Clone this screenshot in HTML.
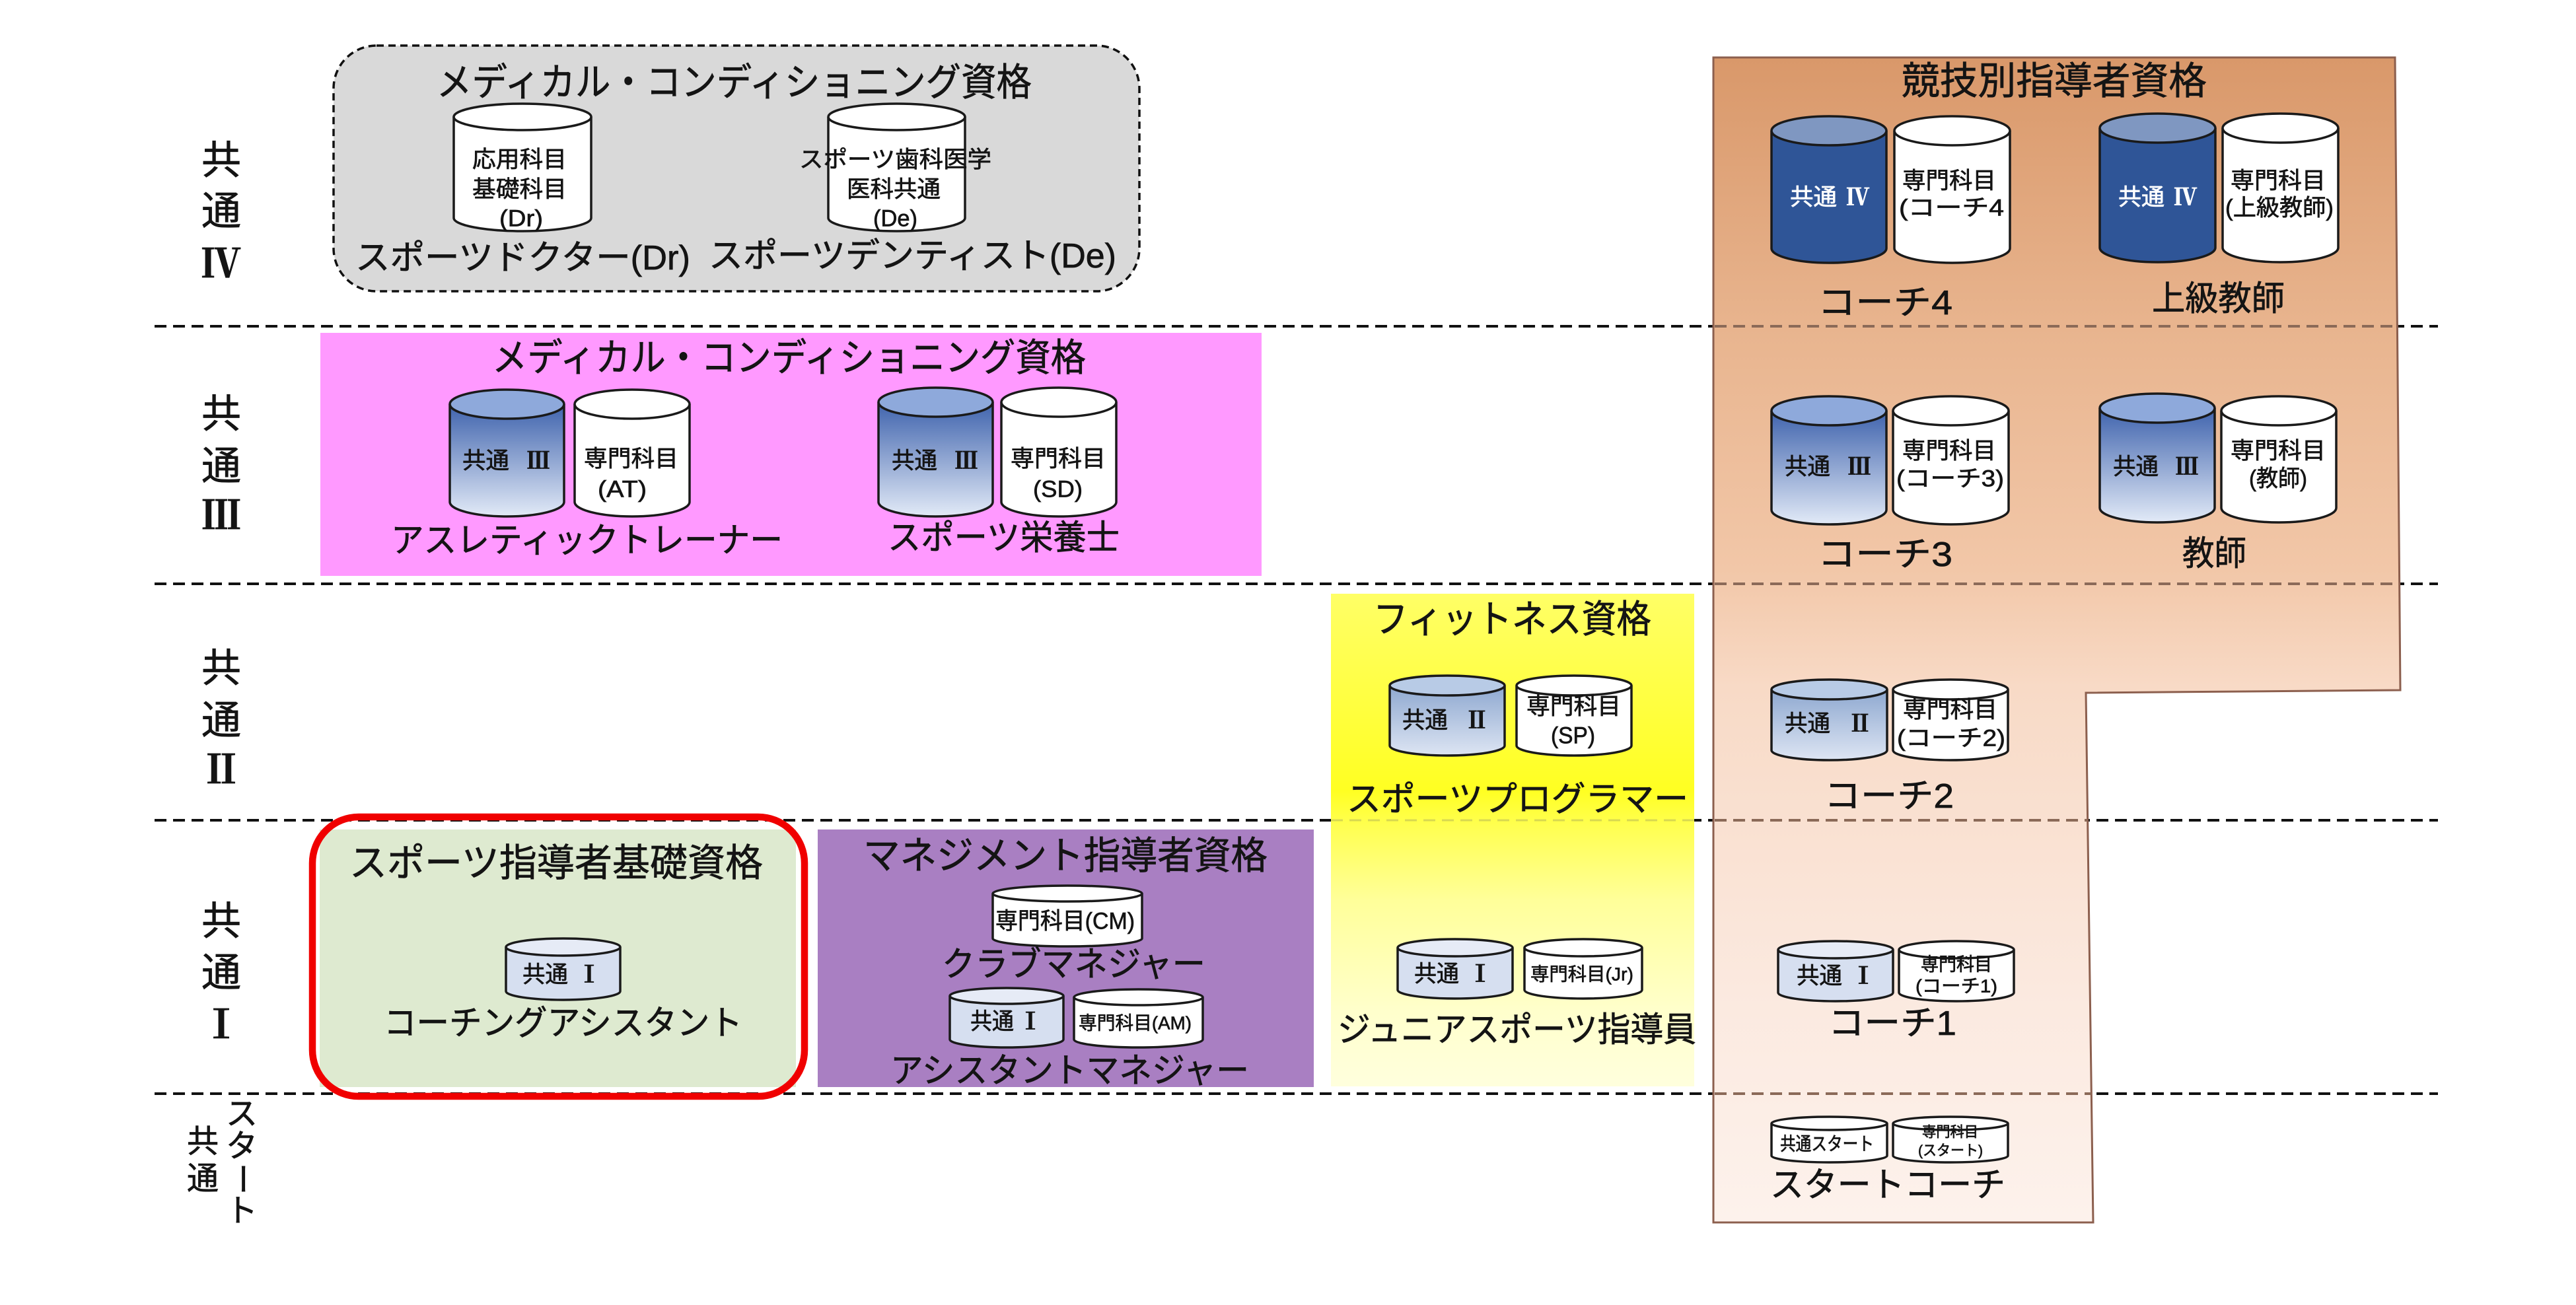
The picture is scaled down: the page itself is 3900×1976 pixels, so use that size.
<!DOCTYPE html>
<html lang="ja"><head><meta charset="utf-8"><title>資格体系</title>
<style>
html,body{margin:0;padding:0;background:#fff}
svg{display:block}
text{font-family:"Liberation Sans","Noto Sans CJK JP",sans-serif;fill:#141414;stroke:#141414;stroke-width:.7;dominant-baseline:central;}
.c{stroke:#1a1a1a;stroke-width:3.5}
.w{fill:#fff}.t4{fill:#2f5597}.e4{fill:#7f97c1}.t3{fill:url(#g3)}.e3{fill:#8ea9db}.t2{fill:url(#g2)}.e2{fill:#b8cbe6}.t1{fill:#d6dff0}.e1{fill:#e6ebf6}
.d{fill:none;stroke:#111;stroke-width:4;stroke-dasharray:18 10}
.r{font-family:"Liberation Serif","Noto Serif CJK JP",serif;font-weight:700;text-anchor:middle}
.wt{fill:#fff;stroke:#fff}
</style></head><body>
<svg xmlns="http://www.w3.org/2000/svg" width="3900" height="1976" viewBox="0 0 3900 1976">
<defs>
<linearGradient id="g3" x1="0" y1="0" x2="0" y2="1"><stop offset="0" stop-color="#3f63ad"/><stop offset="1" stop-color="#e2eaf7"/></linearGradient>
<linearGradient id="g2" x1="0" y1="0" x2="0" y2="1"><stop offset="0" stop-color="#8ea8d0"/><stop offset="1" stop-color="#dde5f3"/></linearGradient>
<linearGradient id="gb" x1="0" y1="0" x2="0" y2="1"><stop offset="0" stop-color="#d9986a"/><stop offset="0.23" stop-color="#e8b48e"/><stop offset="0.44" stop-color="#f2c7a8"/><stop offset="0.54" stop-color="#f8dac6"/><stop offset="0.8" stop-color="#fbe9df"/><stop offset="1" stop-color="#fdf2ec"/></linearGradient>
<linearGradient id="gy" x1="0" y1="0" x2="0" y2="1"><stop offset="0" stop-color="#ffff66"/><stop offset="0.4" stop-color="#ffff22"/><stop offset="0.47" stop-color="#ffff50"/><stop offset="0.62" stop-color="#ffff99"/><stop offset="0.85" stop-color="#ffffcc"/><stop offset="1" stop-color="#ffffdd"/></linearGradient>
</defs>
<rect width="3900" height="1976" fill="#fff"/>
<path class="d" d="M234 494H3691M234 884H3691M234 1242H3691M234 1656H3691"/>

<rect x="505" y="69" width="1220" height="372" rx="65" fill="#d9d9d9" stroke="#111" stroke-width="3.5" stroke-dasharray="11 7"/>
<rect x="485" y="504" width="1425" height="368" fill="#ff99ff"/>
<rect x="2015" y="899" width="550" height="746" fill="url(#gy)"/>
<path d="M2015 1242H2565" fill="none" stroke="#d8d850" stroke-width="3" stroke-dasharray="18 10"/>
<path d="M2594 87H3626L3634 1045L3158 1049L3169 1851H2594Z" fill="url(#gb)" stroke="#8c5f4e" stroke-width="3"/>
<path d="M2596 494H3628M2596 884H3631M2596 1242H3160M2596 1656H3166" fill="none" stroke="#8b6a58" stroke-width="4" stroke-dasharray="18 10"/>
<rect x="484" y="1256" width="721" height="390" fill="#deead0"/>
<rect x="1238" y="1256" width="751" height="390" fill="#a97fc2"/>
<rect x="473" y="1237" width="745" height="423" rx="70" fill="none" stroke="#f00000" stroke-width="10.5"/>

<!-- cylinders -->
<g class="c">
<path class="c w" d="M687 177V330A104 20 0 0 0 895 330V177"/><ellipse class="w" cx="791" cy="177" rx="104" ry="20"/>
<path class="c w" d="M1254 177V330A103.5 20 0 0 0 1461 330V177"/><ellipse class="w" cx="1357.5" cy="177" rx="103.5" ry="20"/>
<path class="c t3" d="M681 612V760A86.5 22 0 0 0 854 760V612"/><ellipse class="e3" cx="767.5" cy="612" rx="86.5" ry="22"/>
<path class="c w" d="M870 612V760A87 22 0 0 0 1044 760V612"/><ellipse class="w" cx="957" cy="612" rx="87" ry="22"/>
<path class="c t3" d="M1330 609V760A86.5 22 0 0 0 1503 760V609"/><ellipse class="e3" cx="1416.5" cy="609" rx="86.5" ry="22"/>
<path class="c w" d="M1516 609V760A87 22 0 0 0 1690 760V609"/><ellipse class="w" cx="1603" cy="609" rx="87" ry="22"/>

<path class="c t4" d="M2682 198V376A87 22 0 0 0 2856 376V198"/><ellipse class="e4" cx="2769" cy="198" rx="87" ry="22"/>
<path class="c w" d="M2868 198V376A87.5 22 0 0 0 3043 376V198"/><ellipse class="w" cx="2955.5" cy="198" rx="87.5" ry="22"/>
<path class="c t4" d="M3179 194V375A87.5 22 0 0 0 3354 375V194"/><ellipse class="e4" cx="3266.5" cy="194" rx="87.5" ry="22"/>
<path class="c w" d="M3365 194V375A87.5 22 0 0 0 3540 375V194"/><ellipse class="w" cx="3452.5" cy="194" rx="87.5" ry="22"/>
<path class="c t3" d="M2682 622V772A87 22 0 0 0 2856 772V622"/><ellipse class="e3" cx="2769" cy="622" rx="87" ry="22"/>
<path class="c w" d="M2866 622V772A87.5 22 0 0 0 3041 772V622"/><ellipse class="w" cx="2953.5" cy="622" rx="87.5" ry="22"/>
<path class="c t3" d="M3179 618V769A87 22 0 0 0 3353 769V618"/><ellipse class="e3" cx="3266" cy="618" rx="87" ry="22"/>
<path class="c w" d="M3363 622V769A87 22 0 0 0 3537 769V622"/><ellipse class="w" cx="3450" cy="622" rx="87" ry="22"/>

<path class="c t2" d="M2104 1038V1129A87 15 0 0 0 2278 1129V1038"/><ellipse class="e2" cx="2191" cy="1038" rx="87" ry="15"/>
<path class="c w" d="M2296 1038V1129A87 15 0 0 0 2470 1129V1038"/><ellipse class="w" cx="2383" cy="1038" rx="87" ry="15"/>
<path class="c t2" d="M2682 1044V1136A87.5 15 0 0 0 2857 1136V1044"/><ellipse class="e2" cx="2769.5" cy="1044" rx="87.5" ry="15"/>
<path class="c w" d="M2866 1044V1136A87 15 0 0 0 3040 1136V1044"/><ellipse class="w" cx="2953" cy="1044" rx="87" ry="15"/>

<path class="c t1" d="M2116 1435V1499A87 13 0 0 0 2290 1499V1435"/><ellipse class="e1" cx="2203" cy="1435" rx="87" ry="13"/>
<path class="c w" d="M2308 1435V1499A89 13 0 0 0 2486 1499V1435"/><ellipse class="w" cx="2397" cy="1435" rx="89" ry="13"/>
<path class="c t1" d="M2692 1438V1503A87 13 0 0 0 2866 1503V1438"/><ellipse class="e1" cx="2779" cy="1438" rx="87" ry="13"/>
<path class="c w" d="M2875 1438V1503A87 13 0 0 0 3049 1503V1438"/><ellipse class="w" cx="2962" cy="1438" rx="87" ry="13"/>
<path class="c w" d="M2682 1701V1750A87.5 10 0 0 0 2857 1750V1701"/><ellipse class="w" cx="2769.5" cy="1701" rx="87.5" ry="10"/>
<path class="c w" d="M2866 1701V1750A87 10 0 0 0 3040 1750V1701"/><ellipse class="w" cx="2953" cy="1701" rx="87" ry="10"/>

<path class="c t1" d="M766 1434V1501A86.5 13 0 0 0 939 1501V1434"/><ellipse class="e1" cx="852.5" cy="1434" rx="86.5" ry="13"/>
<path class="c w" d="M1503 1353V1421A113 12 0 0 0 1729 1421V1353"/><ellipse class="w" cx="1616" cy="1353" rx="113" ry="12"/>
<path class="c t1" d="M1438 1508V1574A86 12 0 0 0 1610 1574V1508"/><ellipse class="e1" cx="1524" cy="1508" rx="86" ry="12"/>
<path class="c w" d="M1626 1510V1574A97.5 12 0 0 0 1821 1574V1510"/><ellipse class="w" cx="1723.5" cy="1510" rx="97.5" ry="12"/>
</g>

<!-- left labels -->
<g font-size="60" text-anchor="middle" style="stroke-width:1.4">
<text x="335" y="243">共</text><text x="335" y="320">通</text><text class="r" x="335" y="400">Ⅳ</text>
<text x="335" y="627">共</text><text x="335" y="706">通</text><text class="r" x="335" y="781">Ⅲ</text>
<text x="335" y="1012">共</text><text x="335" y="1091">通</text><text class="r" x="335" y="1166">Ⅱ</text>
<text x="335" y="1395">共</text><text x="335" y="1473">通</text><text class="r" x="335" y="1552">Ⅰ</text>
</g>
<g font-size="48" text-anchor="middle" style="stroke-width:1">
<text x="307" y="1729">共</text><text x="307" y="1785">通</text>
<text x="366" y="1687">ス</text><text x="366" y="1736">タ</text>
<text x="366" y="1785" transform="rotate(90 366 1785)">ー</text>
<text x="366" y="1834">ト</text>
</g>

<!-- titles -->
<g font-size="58" style="stroke-width:1.1">
<text x="661" y="125" textLength="901" lengthAdjust="spacingAndGlyphs">メディカル・コンディショニング資格</text>
<text x="745" y="542" textLength="899" lengthAdjust="spacingAndGlyphs">メディカル・コンディショニング資格</text>
<text x="2879" y="123" textLength="462" lengthAdjust="spacingAndGlyphs">競技別指導者資格</text>
<text x="2079" y="938" textLength="421" lengthAdjust="spacingAndGlyphs">フィットネス資格</text>
<text x="529" y="1307" textLength="626" lengthAdjust="spacingAndGlyphs">スポーツ指導者基礎資格</text>
<text x="1307" y="1296" textLength="612" lengthAdjust="spacingAndGlyphs">マネジメント指導者資格</text>
</g>

<!-- names -->
<g font-size="52" style="stroke-width:1">
<text x="538" y="391" textLength="507" lengthAdjust="spacingAndGlyphs">スポーツドクター(Dr)</text>
<text x="1073" y="388" textLength="617" lengthAdjust="spacingAndGlyphs">スポーツデンティスト(De)</text>
<text x="592" y="819" textLength="593" lengthAdjust="spacingAndGlyphs">アスレティックトレーナー</text>
<text x="1344" y="815" textLength="351" lengthAdjust="spacingAndGlyphs">スポーツ栄養士</text>
<text x="2752" y="459" textLength="204" lengthAdjust="spacingAndGlyphs">コーチ4</text>
<text x="3258" y="453" textLength="201" lengthAdjust="spacingAndGlyphs">上級教師</text>
<text x="2752" y="840" textLength="204" lengthAdjust="spacingAndGlyphs">コーチ3</text>
<text x="3304" y="839" textLength="97" lengthAdjust="spacingAndGlyphs">教師</text>
<text x="2039" y="1211" textLength="517" lengthAdjust="spacingAndGlyphs">スポーツプログラマー</text>
<text x="2762" y="1206" textLength="196" lengthAdjust="spacingAndGlyphs">コーチ2</text>
<text x="2025" y="1560" textLength="543" lengthAdjust="spacingAndGlyphs">ジュニアスポーツ指導員</text>
<text x="2768" y="1550" textLength="194" lengthAdjust="spacingAndGlyphs">コーチ1</text>
<text x="2680" y="1795" textLength="356" lengthAdjust="spacingAndGlyphs">スタートコーチ</text>
<text x="581" y="1550" textLength="543" lengthAdjust="spacingAndGlyphs">コーチングアシスタント</text>
<text x="1426" y="1461" textLength="399" lengthAdjust="spacingAndGlyphs">クラブマネジャー</text>
<text x="1348" y="1622" textLength="543" lengthAdjust="spacingAndGlyphs">アシスタントマネジャー</text>
</g>

<!-- cylinder labels -->
<g font-size="35" style="stroke-width:.5">
<text x="715" y="242" textLength="143" lengthAdjust="spacingAndGlyphs">応用科目</text>
<text x="715" y="287" textLength="143" lengthAdjust="spacingAndGlyphs">基礎科目</text>
<text x="756" y="331" textLength="66" lengthAdjust="spacingAndGlyphs">(Dr)</text>
<text x="1210" y="242" textLength="291" lengthAdjust="spacingAndGlyphs">スポーツ歯科医学</text>
<text x="1282" y="287" textLength="142" lengthAdjust="spacingAndGlyphs">医科共通</text>
<text x="1322" y="331" textLength="67" lengthAdjust="spacingAndGlyphs">(De)</text>

<text x="884" y="695" textLength="143" lengthAdjust="spacingAndGlyphs">専門科目</text>
<text x="905" y="741" textLength="74" lengthAdjust="spacingAndGlyphs">(AT)</text>
<text x="1530" y="695" textLength="144" lengthAdjust="spacingAndGlyphs">専門科目</text>
<text x="1564" y="741" textLength="75" lengthAdjust="spacingAndGlyphs">(SD)</text>
<text x="700" y="698" textLength="71" lengthAdjust="spacingAndGlyphs">共通</text><text class="r" x="815" y="698">Ⅲ</text>
<text x="1350" y="698" textLength="69" lengthAdjust="spacingAndGlyphs">共通</text><text class="r" x="1463" y="698">Ⅲ</text>

<text class="wt" x="2710" y="299" textLength="71" lengthAdjust="spacingAndGlyphs">共通</text><text class="r wt" x="2813" y="299">Ⅳ</text>
<text class="wt" x="3207" y="299" textLength="70" lengthAdjust="spacingAndGlyphs">共通</text><text class="r wt" x="3309" y="299">Ⅳ</text>
<text x="2880" y="274" textLength="142" lengthAdjust="spacingAndGlyphs">専門科目</text>
<text x="2875" y="315" textLength="159" lengthAdjust="spacingAndGlyphs">(コーチ4</text>
<text x="3377" y="274" textLength="144" lengthAdjust="spacingAndGlyphs">専門科目</text>
<text x="3369" y="315" textLength="164" lengthAdjust="spacingAndGlyphs">(上級教師)</text>

<text x="2702" y="707" textLength="69" lengthAdjust="spacingAndGlyphs">共通</text><text class="r" x="2815" y="707">Ⅲ</text>
<text x="3199" y="707" textLength="69" lengthAdjust="spacingAndGlyphs">共通</text><text class="r" x="3311" y="707">Ⅲ</text>
<text x="2880" y="683" textLength="142" lengthAdjust="spacingAndGlyphs">専門科目</text>
<text x="2871" y="725" textLength="163" lengthAdjust="spacingAndGlyphs">(コーチ3)</text>
<text x="3377" y="683" textLength="144" lengthAdjust="spacingAndGlyphs">専門科目</text>
<text x="3405" y="725" textLength="88" lengthAdjust="spacingAndGlyphs">(教師)</text>

<text x="2123" y="1091" textLength="69" lengthAdjust="spacingAndGlyphs">共通</text><text class="r" x="2236" y="1091">Ⅱ</text>
<text x="2311" y="1070" textLength="143" lengthAdjust="spacingAndGlyphs">専門科目</text>
<text x="2348" y="1114" textLength="67" lengthAdjust="spacingAndGlyphs">(SP)</text>
<text x="2702" y="1096" textLength="69" lengthAdjust="spacingAndGlyphs">共通</text><text class="r" x="2816" y="1096">Ⅱ</text>
<text x="2881" y="1075" textLength="143" lengthAdjust="spacingAndGlyphs">専門科目</text>
<text x="2872" y="1118" textLength="164" lengthAdjust="spacingAndGlyphs">(コーチ2)</text>

<text x="2141" y="1475" textLength="68" lengthAdjust="spacingAndGlyphs">共通</text><text class="r" x="2241" y="1475">Ⅰ</text>
<text x="2720" y="1478" textLength="69" lengthAdjust="spacingAndGlyphs">共通</text><text class="r" x="2821" y="1478">Ⅰ</text>
<text x="791" y="1476" textLength="69" lengthAdjust="spacingAndGlyphs">共通</text><text class="r" x="892" y="1476">Ⅰ</text>
<text x="1469" y="1547" textLength="66" lengthAdjust="spacingAndGlyphs">共通</text><text class="r" x="1560" y="1547">Ⅰ</text>
<text x="1507" y="1395" textLength="211" lengthAdjust="spacingAndGlyphs">専門科目(CM)</text>
</g>
<g font-size="28" style="stroke-width:.5">
<text x="2317" y="1475" textLength="156" lengthAdjust="spacingAndGlyphs">専門科目(Jr)</text>
<text x="1633" y="1549" textLength="171" lengthAdjust="spacingAndGlyphs">専門科目(AM)</text>
<text x="2908" y="1460" textLength="108" lengthAdjust="spacingAndGlyphs">専門科目</text>
<text x="2900" y="1493" textLength="124" lengthAdjust="spacingAndGlyphs">(コーチ1)</text>
<text x="2695" y="1732" textLength="142" lengthAdjust="spacingAndGlyphs">共通スタート</text>
</g>
<g font-size="22" style="stroke-width:.5">
<text x="2910" y="1714" textLength="85" lengthAdjust="spacingAndGlyphs">専門科目</text>
<text x="2904" y="1742" textLength="98" lengthAdjust="spacingAndGlyphs">(スタート)</text>
</g>
</svg>
</body></html>
